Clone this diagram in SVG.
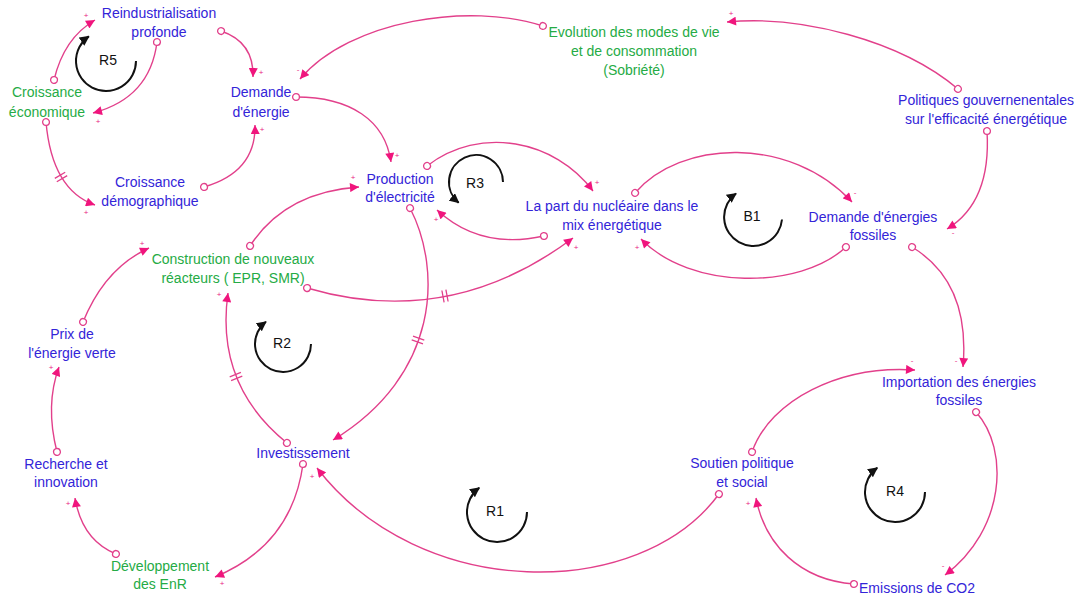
<svg xmlns="http://www.w3.org/2000/svg" width="1080" height="599" viewBox="0 0 1080 599">
<style>
text{font-family:"Liberation Sans",Arial,sans-serif;font-size:14px;text-anchor:middle}
.b{fill:#3324d8}
.g{fill:#25ab45}
.lp{fill:#111}
.c{fill:none;stroke:#e2408b;stroke-width:1.4;marker-start:url(#o);marker-end:url(#a)}
.dl{fill:none;stroke:#e2408b;stroke-width:1.3}
.p{font-size:8px;fill:#e8207f}
.loop{fill:none;stroke:#111;stroke-width:2;marker-end:url(#la)}
</style>
<defs>
<marker id="o" markerUnits="userSpaceOnUse" viewBox="0 0 10 10" refX="5" refY="5" markerWidth="10" markerHeight="10" orient="auto">
<circle cx="5" cy="5" r="3.4" fill="#fff" stroke="#e2408b" stroke-width="1.3"/>
</marker>
<marker id="a" markerUnits="userSpaceOnUse" viewBox="0 0 10 10" refX="10" refY="5" markerWidth="10" markerHeight="9" orient="auto">
<path d="M0,0 L10,5 L0,10 Z" fill="#f0157d"/>
</marker>
<marker id="la" markerUnits="userSpaceOnUse" viewBox="0 0 10 10" refX="9" refY="5" markerWidth="10" markerHeight="10" orient="auto">
<path d="M0,0 L10,5 L0,10 Z" fill="#111"/>
</marker>
</defs>
<rect width="1080" height="599" fill="#fff"/>

<g id="connectors">
<path class="c" d="M54,80 Q64,38 95,20"/>
<path class="c" d="M157,42 Q150,98 93,113"/>
<path class="c" d="M221,31 Q254,42 253,77"/>
<path class="c" d="M204,187 Q256,172 255,125"/>
<path class="c" d="M46,122 Q52,190 95,205"/>
<path class="c" d="M543,26 C470,2 350,20 300,79"/>
<path class="c" d="M958,89 C900,40 800,15 727,22"/>
<path class="c" d="M987,131 C990,180 975,212 947,229"/>
<path class="c" d="M296,97 C350,97 385,120 391,162"/>
<path class="c" d="M427,166 C480,125 555,140 593,191"/>
<path class="c" d="M544,236 Q480,250 437,210"/>
<path class="c" d="M635,193 C680,140 790,135 852,202"/>
<path class="c" d="M846,247 C800,290 690,290 641,239"/>
<path class="c" d="M912,247 C950,270 968,310 963,367"/>
<path class="c" d="M976,412 C1010,450 1005,530 945,575"/>
<path class="c" d="M854,584 C800,580 765,545 756,498"/>
<path class="c" d="M752,452 C770,400 840,365 915,370"/>
<path class="c" d="M719,494 C640,602 420,602 317,468"/>
<path class="c" d="M410,208 C442,270 440,375 333,440"/>
<path class="c" d="M287,443 Q215,385 228,293"/>
<path class="c" d="M250,246 Q285,192 359,187"/>
<path class="c" d="M307,288 Q450,330 573,238"/>
<path class="c" d="M83,322 Q105,268 149,248"/>
<path class="c" d="M57,452 Q45,405 59,367"/>
<path class="c" d="M116,554 Q82,540 75,498"/>
<path class="c" d="M303,464 Q292,545 215,577"/>
<path class="dl" d="M65.2,172.2 L54.8,178.4 M67.2,175.6 L56.8,181.8"/>
<path class="dl" d="M444.1,302.3 L441.9,290.5 M448.1,301.5 L445.9,289.7"/>
<path class="dl" d="M424.3,340.1 L413,336.1 M423,343.9 L411.7,339.9"/>
<path class="dl" d="M242.3,376.2 L231.1,380.6 M240.9,372.4 L229.7,376.8"/>
<text class="p" x="86" y="18">+</text>
<text class="p" x="98" y="124">+</text>
<text class="p" x="261" y="75">+</text>
<text class="p" x="262" y="132">+</text>
<text class="p" x="86" y="215">+</text>
<text class="p" x="298" y="72">-</text>
<text class="p" x="731" y="16">+</text>
<text class="p" x="953" y="235">-</text>
<text class="p" x="397" y="158">+</text>
<text class="p" x="597" y="185">+</text>
<text class="p" x="436" y="222">+</text>
<text class="p" x="855" y="195">-</text>
<text class="p" x="637" y="250">+</text>
<text class="p" x="956" y="363">-</text>
<text class="p" x="943" y="568">-</text>
<text class="p" x="748" y="506">+</text>
<text class="p" x="912" y="363">-</text>
<text class="p" x="312" y="479">+</text>
<text class="p" x="219" y="297">+</text>
<text class="p" x="353" y="180">+</text>
<text class="p" x="576" y="250">+</text>
<text class="p" x="142" y="246">+</text>
<text class="p" x="51" y="370">+</text>
<text class="p" x="68" y="506">+</text>
<text class="p" x="222" y="586">+</text>
</g>

<g id="loops">
<path class="loop" d="M136,61 A30,30 0 1 1 88.8,36.4"/>
<text class="lp" x="108" y="65">R5</text>
<path class="loop" d="M503,182 A27,27 0 1 0 458.6,202.7"/>
<text class="lp" x="475" y="188">R3</text>
<path class="loop" d="M782,219.5 A29,29 0 1 1 736,193.5"/>
<text class="lp" x="752" y="221">B1</text>
<path class="loop" d="M311,344 A28,28 0 1 1 265.9,321.8"/>
<text class="lp" x="282" y="348">R2</text>
<path class="loop" d="M527,512 A30,30 0 1 1 479.2,487.9"/>
<text class="lp" x="495" y="516">R1</text>
<path class="loop" d="M925,492 A30,30 0 1 1 877.2,467.9"/>
<text class="lp" x="895" y="496">R4</text>
</g>

<g id="reindustrialisation"><text class="b" x="159" y="18">Reindustrialisation</text><text class="b" x="159" y="37">profonde</text></g>
<g id="croissance-economique"><text class="g" x="47" y="97">Croissance</text><text class="g" x="47" y="117">économique</text></g>
<g id="demande-energie"><text class="b" x="261" y="97">Demande</text><text class="b" x="261" y="117">d'énergie</text></g>
<g id="croissance-demographique"><text class="b" x="150" y="187">Croissance</text><text class="b" x="150" y="206">démographique</text></g>
<g id="evolution"><text class="g" x="634" y="37">Evolution des modes de vie</text><text class="g" x="634" y="56">et de consommation</text><text class="g" x="634" y="75">(Sobriété)</text></g>
<g id="politiques"><text class="b" x="986" y="105">Politiques gouvernenentales</text><text class="b" x="986" y="124">sur l'efficacité énergétique</text></g>
<g id="production"><text class="b" x="400" y="184">Production</text><text class="b" x="400" y="202">d'électricité</text></g>
<g id="part-nucleaire"><text class="b" x="612" y="211">La part du nucléaire dans le</text><text class="b" x="612" y="230">mix énergétique</text></g>
<g id="demande-fossiles"><text class="b" x="873" y="222">Demande d'énergies</text><text class="b" x="873" y="240">fossiles</text></g>
<g id="construction"><text class="g" x="233" y="264">Construction de nouveaux</text><text class="g" x="233" y="283">réacteurs ( EPR, SMR)</text></g>
<g id="prix"><text class="b" x="72" y="339">Prix de</text><text class="b" x="72" y="358">l'énergie verte</text></g>
<g id="investissement"><text class="b" x="303" y="458">Investissement</text></g>
<g id="recherche"><text class="b" x="66" y="469">Recherche et</text><text class="b" x="66" y="487">innovation</text></g>
<g id="developpement"><text class="g" x="160" y="571">Développement</text><text class="g" x="160" y="589">des EnR</text></g>
<g id="soutien"><text class="b" x="742" y="468">Soutien politique</text><text class="b" x="742" y="487">et social</text></g>
<g id="importation"><text class="b" x="959" y="387">Importation des énergies</text><text class="b" x="959" y="405">fossiles</text></g>
<g id="emissions"><text class="b" x="917" y="593">Emissions de CO2</text></g>
</svg>
